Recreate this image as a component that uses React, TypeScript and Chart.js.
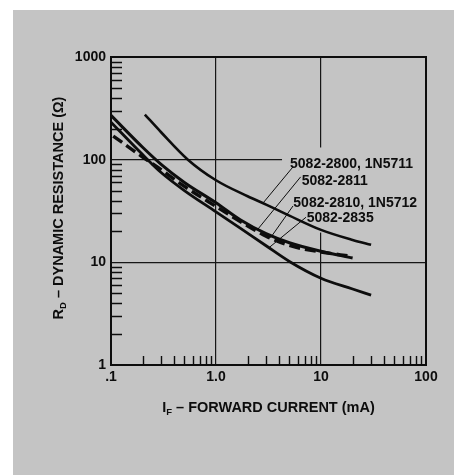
import React, { useEffect, useRef } from "react";
import { Chart, registerables } from "chart.js";

Chart.register(...registerables);

// ---- axis definitions ----
const X_TICKS = [0.1, 1, 10, 100];
const X_TICK_LABELS = [".1", "1.0", "10", "100"];
const Y_TICKS = [1, 10, 100, 1000];
const Y_TICK_LABELS = ["1", "10", "100", "1000"];
const X_GRID = [1, 10];
const Y_GRID = [10, 100];
const MINOR_MULTIPLES = [2, 3, 4, 5, 6, 7, 8, 9];

const X_TITLE_MAIN = "I";
const X_TITLE_SUB = "F";
const X_TITLE_REST = " – FORWARD CURRENT (mA)";
const Y_TITLE_MAIN = "R";
const Y_TITLE_SUB = "D";
const Y_TITLE_REST = " – DYNAMIC RESISTANCE (Ω)";

// ---- series (I_F in mA, R_D in ohms) ----
const S2800_X = [0.21, 0.3, 0.54, 1, 2, 3, 5, 10, 20, 30];
const S2800_Y = [275, 185, 100, 63, 44, 36.5, 28.5, 20.7, 16.5, 14.8];

const S2811_X = [0.1, 0.2, 0.3, 0.5, 1, 1.7, 3, 5, 10, 20];
const S2811_Y = [270, 132, 90, 60, 38, 26, 19, 15.5, 12.8, 11];

const S2810_X = [0.105, 0.2, 0.3, 0.5, 1, 1.7, 3, 5, 10, 19];
const S2810_Y = [170, 106, 80, 55, 35, 25, 18, 14.6, 12.6, 11.5];

const S2835_X = [0.1, 0.2, 0.3, 0.5, 1, 1.7, 3, 5, 10, 20, 30];
const S2835_Y = [232, 112, 75, 50, 31, 21.5, 14.5, 10.2, 7, 5.5, 4.8];

// ---- curve labels & leader lines (data coordinates) ----
const LABEL_TEXTS = ["5082-2800, 1N5711", "5082-2811", "5082-2810, 1N5712", "5082-2835"];
const LABEL_X = [5.07, 6.55, 5.45, 7.31];
const LABEL_Y = [91.8, 63.4, 39, 27.9];
const LEADER_FROM_X = [5.41, 6.4, 5.41, 7.2];
const LEADER_FROM_Y = [85, 68, 35.4, 27.5];
const LEADER_TO_X = [2.8, 2.5, 3.3, 3.2];
const LEADER_TO_Y = [37.7, 21.0, 17.3, 13.9];

const FONT = "'Liberation Sans', Arial, Helvetica, sans-serif";
const INK = "#0d0d0d";
const PAPER = "#c4c4c4";

const toPts = (xs: number[], ys: number[]) => xs.map((x, i) => ({ x, y: ys[i] }));

const overlayPlugin = {
  id: "overlay",
  beforeDraw(chart: any) {
    const { ctx, width, height } = chart;
    ctx.save();
    ctx.fillStyle = "#ffffff";
    ctx.fillRect(0, 0, width, height);
    ctx.fillStyle = PAPER;
    ctx.fillRect(13, 10, width - 13, height - 10);
    ctx.restore();
  },
  beforeDatasetsDraw(chart: any) {
    // paper patch behind the curve labels (hides grid lines there)
    const { ctx, chartArea } = chart;
    const xs = chart.scales.x;
    const ys = chart.scales.y;
    ctx.save();
    ctx.font = `bold 14px ${FONT}`;
    let x0 = Infinity, y0 = Infinity, y1 = -Infinity;
    LABEL_TEXTS.forEach((t, i) => {
      const px = xs.getPixelForValue(LABEL_X[i]);
      const py = ys.getPixelForValue(LABEL_Y[i]);
      x0 = Math.min(x0, px);
      y0 = Math.min(y0, py - 5);
      y1 = Math.max(y1, py + 5);
    });
    ctx.fillStyle = PAPER;
    ctx.fillRect(x0 - 8, y0 - 11, chartArea.right - 1 - (x0 - 8), y1 - y0 + 22);
    ctx.restore();
  },
  afterDatasetsDraw(chart: any) {
    const { ctx, chartArea } = chart;
    const xs = chart.scales.x;
    const ys = chart.scales.y;
    ctx.save();
    ctx.strokeStyle = INK;
    ctx.fillStyle = INK;

    // frame
    ctx.lineWidth = 2;
    ctx.strokeRect(chartArea.left, chartArea.top, chartArea.right - chartArea.left, chartArea.bottom - chartArea.top);

    // inward minor ticks
    ctx.lineWidth = 1.4;
    ctx.beginPath();
    [1, 10, 100].forEach((d) => {
      MINOR_MULTIPLES.forEach((m) => {
        const py = Math.round(ys.getPixelForValue(m * d)) + 0.5;
        ctx.moveTo(chartArea.left, py);
        ctx.lineTo(chartArea.left + 11, py);
      });
    });
    [0.1, 1, 10].forEach((d) => {
      MINOR_MULTIPLES.forEach((m) => {
        const px = Math.round(xs.getPixelForValue(m * d)) + 0.5;
        ctx.moveTo(px, chartArea.bottom);
        ctx.lineTo(px, chartArea.bottom - 9);
      });
    });
    ctx.stroke();

    // leader lines
    ctx.lineWidth = 1;
    ctx.beginPath();
    LEADER_FROM_X.forEach((fx, i) => {
      ctx.moveTo(xs.getPixelForValue(fx), ys.getPixelForValue(LEADER_FROM_Y[i]));
      ctx.lineTo(xs.getPixelForValue(LEADER_TO_X[i]), ys.getPixelForValue(LEADER_TO_Y[i]));
    });
    ctx.stroke();

    // curve labels
    ctx.font = `bold 14px ${FONT}`;
    ctx.textAlign = "left";
    ctx.textBaseline = "alphabetic";
    LABEL_TEXTS.forEach((t, i) => {
      ctx.fillText(t, xs.getPixelForValue(LABEL_X[i]), ys.getPixelForValue(LABEL_Y[i]) + 5);
    });

    // axis titles with subscripts
    const drawTitle = (main: string, sub: string, rest: string, cx: number, base: number) => {
      const mainFont = `bold 14.5px ${FONT}`;
      const subFont = `bold 9.5px ${FONT}`;
      ctx.font = mainFont;
      const wMain = ctx.measureText(main).width;
      const wRest = ctx.measureText(rest).width;
      ctx.font = subFont;
      const wSub = ctx.measureText(sub).width;
      const total = wMain + wSub + wRest;
      let x = cx - total / 2;
      ctx.textAlign = "left";
      ctx.textBaseline = "alphabetic";
      ctx.font = mainFont;
      ctx.fillText(main, x, base);
      x += wMain;
      ctx.font = subFont;
      ctx.fillText(sub, x, base + 3);
      x += wSub;
      ctx.font = mainFont;
      ctx.fillText(rest, x, base);
    };
    drawTitle(X_TITLE_MAIN, X_TITLE_SUB, X_TITLE_REST, (chartArea.left + chartArea.right) / 2, chartArea.bottom + 47);

    ctx.save();
    ctx.translate(chartArea.left - 48, (chartArea.top + chartArea.bottom) / 2 - 3);
    ctx.rotate(-Math.PI / 2);
    drawTitle(Y_TITLE_MAIN, Y_TITLE_SUB, Y_TITLE_REST, 0, 0);
    ctx.restore();

    ctx.restore();
  },
};

export default function App() {
  const ref = useRef<HTMLCanvasElement>(null);

  useEffect(() => {
    document.body.style.margin = "0";
    if (!ref.current) return;

    const line = (label: string, xs: number[], ys: number[], width: number, dash: number[] = []) => ({
      label,
      data: toPts(xs, ys),
      borderColor: INK,
      backgroundColor: INK,
      borderWidth: width,
      borderDash: dash,
      borderCapStyle: "butt",
      pointRadius: 0,
      fill: false,
      cubicInterpolationMode: "monotone",
    });

    const chart = new Chart(ref.current, {
      type: "line",
      data: {
        datasets: [
          line("5082-2800, 1N5711", S2800_X, S2800_Y, 2.6),
          line("5082-2811", S2811_X, S2811_Y, 3),
          line("5082-2810, 1N5712", S2810_X, S2810_Y, 3.4, [11, 5]),
          line("5082-2835", S2835_X, S2835_Y, 2.8),
        ] as any,
      },
      options: {
        animation: false,
        responsive: false,
        layout: { padding: { left: 0, top: 57, right: 28, bottom: 0 } },
        plugins: { legend: { display: false }, tooltip: { enabled: false } },
        scales: {
          x: {
            type: "logarithmic",
            min: 0.1,
            max: 100,
            position: "bottom",
            border: { display: false },
            grid: {
              drawTicks: false,
              lineWidth: 1.2,
              color: (c: any) => (c.tick && X_GRID.includes(c.tick.value) ? "#161616" : "rgba(0,0,0,0)"),
            },
            afterBuildTicks: (s: any) => {
              s.ticks = X_TICKS.map((v) => ({ value: v }));
            },
            afterFit: (s: any) => {
              s.height = 110;
            },
            ticks: {
              autoSkip: false,
              maxRotation: 0,
              padding: 4,
              color: INK,
              font: { family: FONT, size: 14, weight: "bold" },
              callback: (v: any) => {
                const i = X_TICKS.indexOf(Number(v));
                return i >= 0 ? X_TICK_LABELS[i] : "";
              },
            },
          },
          y: {
            type: "logarithmic",
            min: 1,
            max: 1000,
            border: { display: false },
            grid: {
              drawTicks: false,
              lineWidth: 1.2,
              color: (c: any) => (c.tick && Y_GRID.includes(c.tick.value) ? "#161616" : "rgba(0,0,0,0)"),
            },
            afterBuildTicks: (s: any) => {
              s.ticks = Y_TICKS.map((v) => ({ value: v }));
            },
            afterFit: (s: any) => {
              s.width = 111;
            },
            ticks: {
              autoSkip: false,
              padding: 5,
              color: INK,
              font: { family: FONT, size: 14, weight: "bold" },
              callback: (v: any) => {
                const i = Y_TICKS.indexOf(Number(v));
                return i >= 0 ? Y_TICK_LABELS[i] : "";
              },
            },
          },
        },
      } as any,
      plugins: [overlayPlugin],
    });

    return () => chart.destroy();
  }, []);

  return (
    <div style={{ width: 454, height: 475 }}>
      <canvas ref={ref} width={454} height={475} style={{ display: "block" }} />
    </div>
  );
}
